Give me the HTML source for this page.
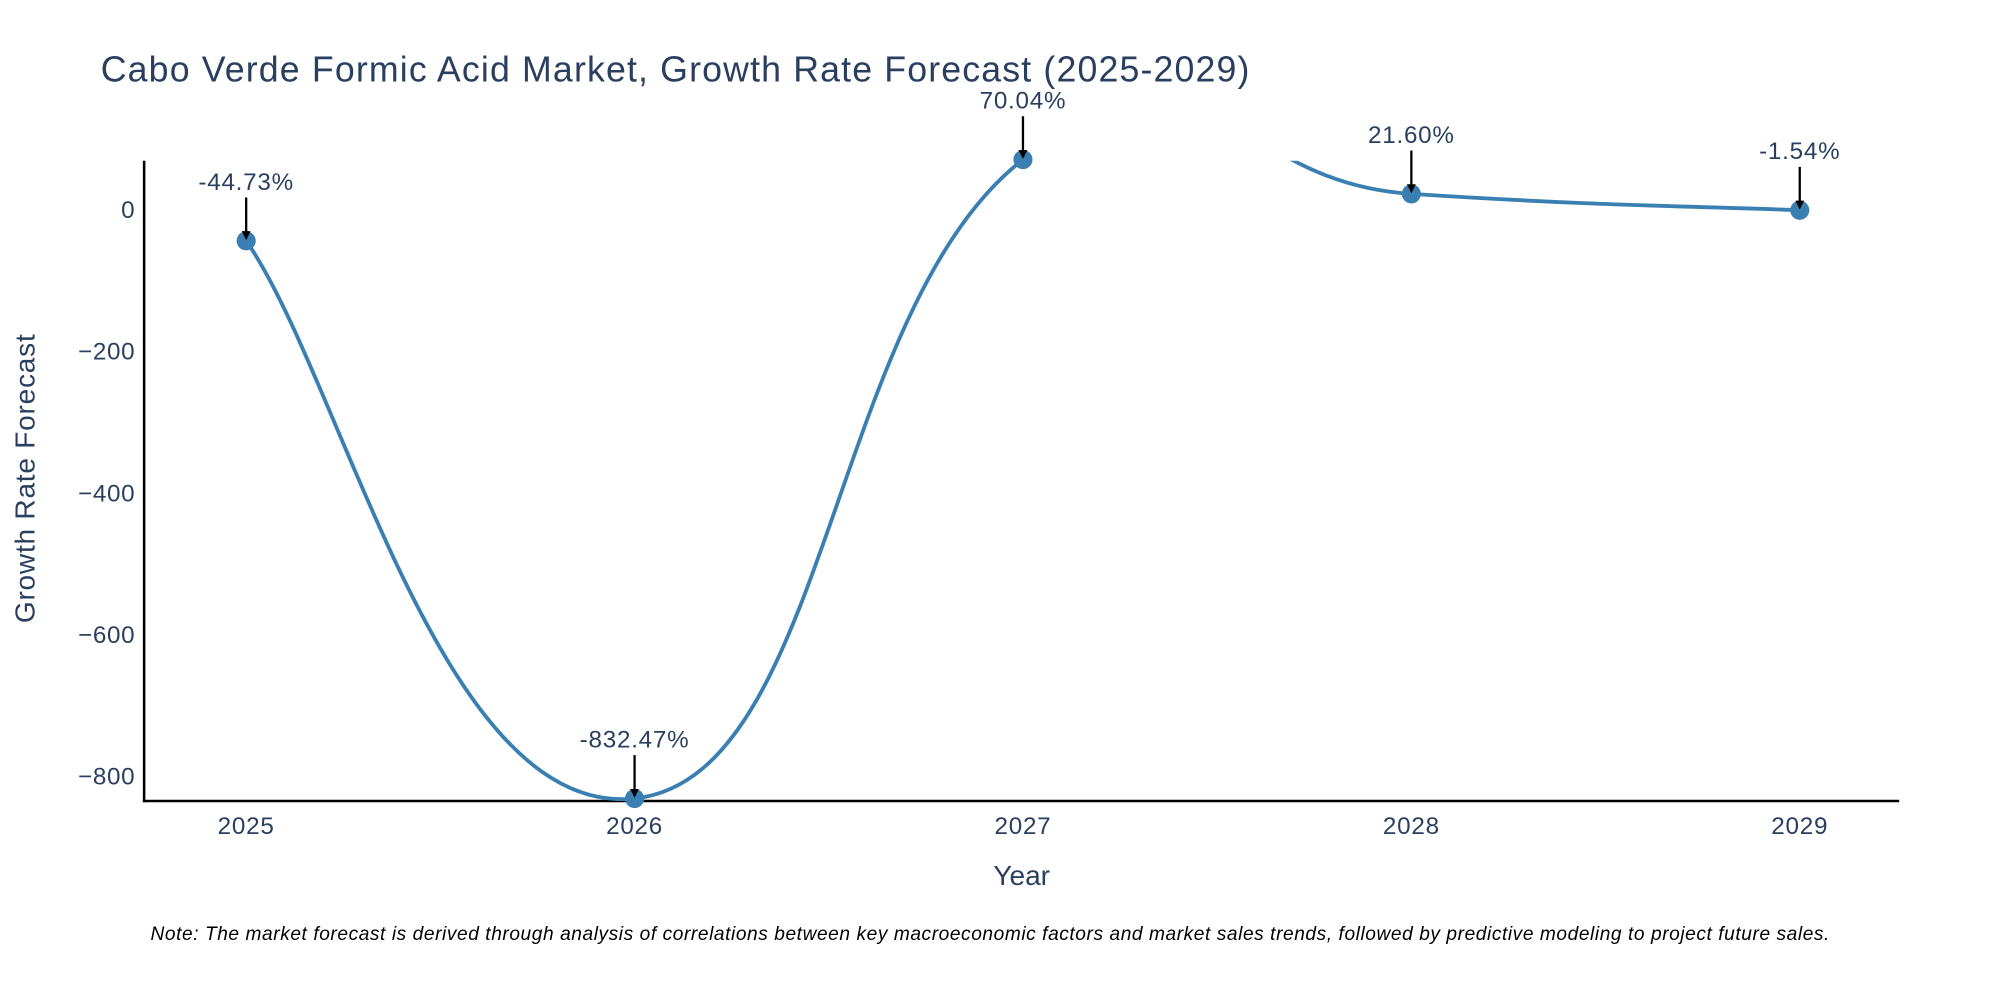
<!DOCTYPE html>
<html><head><meta charset="utf-8"><style>
html,body{margin:0;padding:0;background:#fff;}
svg{display:block;font-family:"Liberation Sans",sans-serif;}
</style></head><body>
<svg id="chart" width="2000" height="1000" viewBox="0 0 1568 784" xmlns="http://www.w3.org/2000/svg">
<defs>
<clipPath id="plotclip"><rect x="113" y="126" width="1375" height="502"/></clipPath>
<marker id="arrowhead" viewBox="0 0 10 10" refX="8" refY="5" markerWidth="7" markerHeight="7" markerUnits="userSpaceOnUse" orient="auto"><path d="M0,0 L10,5 L0,10 z" fill="#000"/></marker>
</defs>
<text x="79" y="64" font-size="28" letter-spacing="0.9" fill="#2a3f5f">Cabo Verde Formic Acid Market, Growth Rate Forecast (2025-2029)</text>
<g id="yticks"></g>
<g id="xticks"></g>
<line x1="113" y1="126" x2="113" y2="629" stroke="#000" stroke-width="2"/>
<line x1="112" y1="628" x2="1489" y2="628" stroke="#000" stroke-width="2"/>
<g clip-path="url(#plotclip)"><path id="line" fill="none" stroke="#3a7fb1" stroke-width="3"/></g>
<g id="marks"></g>
<g id="annots"></g>
<text transform="translate(27,375) rotate(-90)" text-anchor="middle" font-size="22" letter-spacing="0.6" fill="#2a3f5f">Growth Rate Forecast</text>
<text x="801" y="694" text-anchor="middle" font-size="22" fill="#2a3f5f">Year</text>
<text x="118" y="737" font-size="15" letter-spacing="0.45" font-style="italic" fill="#000">Note: The market forecast is derived through analysis of correlations between key macroeconomic factors and market sales trends, followed by predictive modeling to project future sales.</text>
</svg>
<script>
const years = [2025, 2026, 2027, 2028, 2029];
const growth = [-44.73, -832.47, 70.04, 21.60, -1.54];
const labels = ["-44.73%", "-832.47%", "70.04%", "21.60%", "-1.54%"];
const yTickValues = [0, -200, -400, -600, -800];
const yTickLabels = ["0", "\u2212200", "\u2212400", "\u2212600", "\u2212800"];

const NS = "http://www.w3.org/2000/svg";
function xs(v){ return 193 + (v - 2025) * 304.5; }
function ys(v){ return 164 - v * 0.555; }
function mk(tag, attrs, parent){ const e = document.createElementNS(NS, tag); for (const k in attrs) e.setAttribute(k, attrs[k]); parent.appendChild(e); return e; }

const yt = document.getElementById('yticks');
yTickValues.forEach((v, i) => {
  const t = mk('text', {x: 106, y: ys(v) + 7, 'text-anchor': 'end', 'font-size': 19, 'letter-spacing': 0.5, fill: '#2a3f5f'}, yt);
  
  
  t.textContent = yTickLabels[i];
});
const xt = document.getElementById('xticks');
years.forEach(y => {
  const t = mk('text', {x: xs(y), y: 654, 'text-anchor': 'middle', 'font-size': 19, 'letter-spacing': 0.6, fill: '#2a3f5f'}, xt);
  
  
  t.textContent = String(y);
});

const pts = years.map((y, i) => [xs(y), ys(growth[i])]);
let d = `M${pts[0][0]},${pts[0][1]}`;
const k = 0.25;
for (let i = 0; i < pts.length - 1; i++) {
  const p0 = pts[Math.max(0, i - 1)], p1 = pts[i], p2 = pts[i + 1], p3 = pts[Math.min(pts.length - 1, i + 2)];
  const c1 = [p1[0] + (p2[0] - p0[0]) * k, p1[1] + (p2[1] - p0[1]) * k];
  const c2 = [p2[0] - (p3[0] - p1[0]) * k, p2[1] - (p3[1] - p1[1]) * k];
  d += ` C${c1[0]},${c1[1]} ${c2[0]},${c2[1]} ${p2[0]},${p2[1]}`;
}
document.getElementById('line').setAttribute('d', d);

const mg = document.getElementById('marks');
const ag = document.getElementById('annots');
pts.forEach((p, i) => {
  const c = mk('circle', {cx: p[0], cy: p[1], r: 7.5, fill: '#3a7fb1'}, mg);
  
  
  const a = mk('line', {x1: p[0], y1: p[1] - 34, x2: p[0], y2: p[1] - 2, stroke: '#000', 'stroke-width': 1.8, 'marker-end': 'url(#arrowhead)'}, ag);
  
  
  const t = mk('text', {x: p[0], y: p[1] - 40, 'text-anchor': 'middle', 'font-size': 19, 'letter-spacing': 0.6, fill: '#2a3f5f'}, ag);
  
  
  t.textContent = labels[i];
});
</script>
</body></html>
